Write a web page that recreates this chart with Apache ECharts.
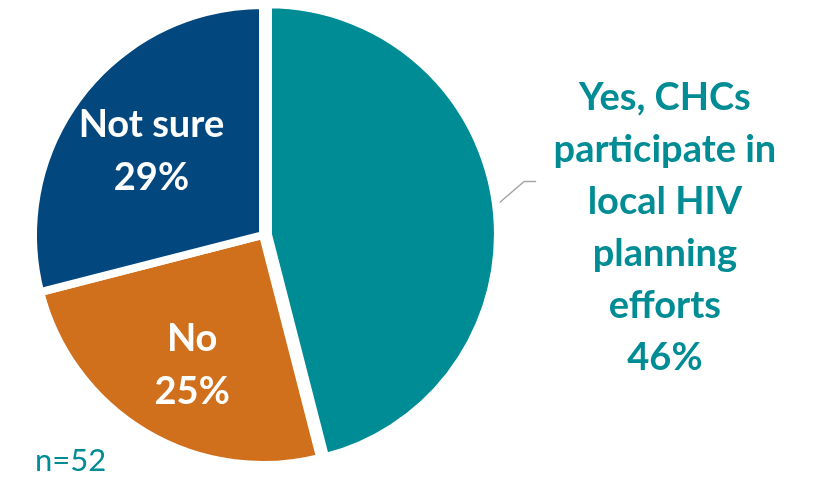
<!DOCTYPE html>
<html>
<head>
<meta charset="utf-8">
<script src="https://cdn.jsdelivr.net/npm/echarts@6/dist/echarts.min.js"></script>
<style>
html,body{margin:0;padding:0;background:#fff;}
#chart{width:815px;height:478px;}
</style>
</head>
<body>
<div id="chart"></div>
<script>
// ---- data ----
const categories = ['Yes, CHCs participate in local HIV planning efforts', 'No', 'Not sure'];
const values = [46, 25, 29];
const labelLines = [
  ['Yes, CHCs', 'participate in', 'local HIV', 'planning', 'efforts'],
  ['No'],
  ['Not sure']
];
const sampleNote = 'n=52';

// ---- style ----
const colors = ['#008C95', '#D1701C', '#03477F'];
const FONT = 'Lato';
const FS = 38;

const chart = echarts.init(document.getElementById('chart'), null, {renderer: 'canvas'});

const mainData = categories.map((c, i) => {
  const item = {
    name: c,
    value: values[i],
    itemStyle: { color: colors[i] }
  };
  if (i === 0) {
    item.selected = true;
    item.label = {
      show: true,
      position: 'outside',
      formatter: p => labelLines[0].map(t => '{a|' + t + '}').join('\n') + '\n{a|' + p.value + '%}',
      width: 248,
      overflow: 'none',
      padding: [52, 0, 0, 0],
      rich: {
        a: { fontFamily: FONT, fontWeight: 'bold', fontSize: FS, lineHeight: 52, color: colors[0], align: 'center' }
      }
    };
    item.labelLine = { show: true };
  } else {
    item.label = { show: false };
    item.labelLine = { show: false };
  }
  return item;
});

const innerData = categories.map((c, i) => ({
  name: c,
  value: values[i],
  label: i === 0 ? { show: false } : {
    show: true,
    position: 'inside',
    formatter: p => labelLines[i].join('\n') + '\n' + p.value + '%',
    color: '#fff',
    fontFamily: FONT,
    fontWeight: 'bold',
    fontSize: FS,
    lineHeight: 53,
    align: 'center'
  },
  labelLine: { show: false }
}));

chart.setOption({
  animation: false,
  backgroundColor: '#fff',
  title: {
    text: sampleNote,
    left: 30,
    top: 440,
    textStyle: { fontFamily: FONT, fontWeight: 'normal', fontSize: 31, color: colors[0] }
  },
  series: [
    {
      type: 'pie',
      center: [263, 235],
      radius: [0, 230],
      startAngle: 90,
      clockwise: true,
      selectedMode: 'single',
      selectedOffset: 5,
      avoidLabelOverlap: false,
      emphasis: { disabled: true },
      itemStyle: { borderColor: '#fff', borderWidth: 8, borderJoin: 'miter' },
      labelLine: {
        length: 30,
        length2: 10,
        smooth: false,
        lineStyle: { color: '#A6A6A6', width: 1.5 }
      },
      labelLayout: function (params) {
        if (params.seriesIndex !== 0 || params.dataIndex !== 0 || !params.labelLinePoints) return {};
        const p0 = params.labelLinePoints[0];
        const p1 = [p0[0] + 28, p0[1] - 24];
        const p2 = [p1[0] + 12, p1[1]];
        return { labelLinePoints: [p0, p1, p2] };
      },
      data: mainData
    },
    {
      type: 'pie',
      center: [266, 240],
      radius: [54, 230],
      startAngle: 90,
      clockwise: true,
      silent: true,
      z: 5,
      avoidLabelOverlap: false,
      emphasis: { disabled: true },
      itemStyle: { color: 'rgba(0,0,0,0)', borderWidth: 0 },
      data: innerData
    }
  ]
});
</script>
</body>
</html>
